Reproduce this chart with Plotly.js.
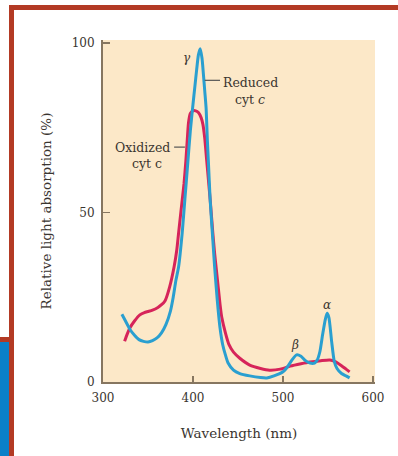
<!DOCTYPE html>
<html>
<head>
<meta charset="utf-8">
<script src="https://cdn.plot.ly/plotly-3.0.1.min.js"></script>
<style>html,body{margin:0;padding:0;background:#fff;}#chart{width:398px;height:456px;}</style>
</head>
<body>
<div id="chart"></div>
<script>
// Reduced cytochrome c (blue)
const reducedWl = [321,325,330,335,340,345,350,355,360,365,370,375,378,381,384,388,391,394,397,400,402,404,406,408,410,411.5,413,414.5,416,417,419,422,424,427,430,433,436,439,445,452,463,475,482,490,500,505,510,515,520,525,530,535,538,541,544,547,549,551,554,557,560,565,570,574];
const reducedAbs = [20,18,15.5,13.8,12.5,12,11.8,12.2,13,14.5,17,21,25,30,34,44,54,64,74,82,87,92,96.5,98.3,95.5,91,86,81,71,65.5,54,42,34,24,16,11,8,5.6,3.5,2.5,1.8,1.3,1.2,1.8,3,4.5,6.5,8,7.6,6.3,5.6,5.6,6.5,9,14,18.5,20.3,19,12,6,4,2.5,1.8,1.2];
// Oxidized cytochrome c (red)
const oxidizedWl = [324,327,330,335,341,346,350,355,361,365,369,374,379,382,384,388,390,392,394,395,397,400,403,406,409,411,413,415,417,419,422,424,426,428,430,432,436,440,445,452,463,475,485,497,508,520,530,542,552,558,565,570,574];
const oxidizedAbs = [12,14.2,16,18,19.8,20.5,20.8,21.2,22,22.8,24,28,34,39,44,53.7,58.5,65,73,76.5,79.2,80,80,79.5,78,76,72,66,60,54,44,38,33,28,23,19,14.5,11,8.8,7,5,4,3.5,3.8,4.7,5.4,5.9,6.3,6.5,6,4.8,3.8,3];

const xTicks = [300,400,500,600];
const yTicks = [0,50,100];

const serif = "DejaVu Serif, serif";
const axisCol = "#867660";
const txtCol = "#3a3530";

// frame helpers (pixel -> paper coords)
const L = 103, T = 40, W = 272, H = 342;
const px = v => (v - L) / W;
const py = v => 1 - (v - T) / H;

const traces = [
  {x: oxidizedWl, y: oxidizedAbs, mode: 'lines', name: 'Oxidized cyt c',
   line: {color: '#d6245a', width: 3, shape: 'spline', smoothing: 0.6}, hoverinfo: 'skip'},
  {x: reducedWl, y: reducedAbs, mode: 'lines', name: 'Reduced cyt c',
   line: {color: '#2a9fd0', width: 3, shape: 'spline', smoothing: 0.6}, hoverinfo: 'skip'}
];

const layout = {
  width: 398, height: 456,
  margin: {l: L, r: 398 - L - W, t: T, b: 456 - T - H, pad: 0},
  paper_bgcolor: '#ffffff',
  plot_bgcolor: '#fce8c8',
  showlegend: false,
  font: {family: serif, color: txtCol},
  xaxis: {
    range: [300, 602.2], tickvals: xTicks, ticktext: xTicks.map(String),
    showgrid: false, zeroline: false, showline: true, linecolor: axisCol, linewidth: 2,
    ticks: 'inside', ticklen: 6, tickcolor: axisCol, tickwidth: 1.5,
    ticklabelstandoff: 4,
    tickfont: {family: serif, size: 12, color: txtCol},
    title: {text: 'Wavelength (nm)', font: {family: serif, size: 13.5, color: txtCol}, standoff: 24}
  },
  yaxis: {
    range: [0, 100.9], tickvals: yTicks, ticktext: yTicks.map(String),
    showgrid: false, zeroline: false, showline: true, linecolor: axisCol, linewidth: 2,
    ticks: 'inside', ticklen: 7, tickcolor: axisCol, tickwidth: 1.5,
    ticklabelstandoff: 4,
    tickfont: {family: serif, size: 12, color: txtCol},
    title: {text: 'Relative light absorption (%)', font: {family: serif, size: 13.5, color: txtCol}, standoff: 17}
  },
  shapes: [
    // outer frame
    {type: 'rect', xref: 'paper', yref: 'paper', x0: px(10), x1: px(398), y0: py(10), y1: py(5), fillcolor: '#b33a24', line: {width: 0}},
    {type: 'rect', xref: 'paper', yref: 'paper', x0: px(9), x1: px(14), y0: py(456), y1: py(5), fillcolor: '#b33a24', line: {width: 0}},
    {type: 'rect', xref: 'paper', yref: 'paper', x0: px(0), x1: px(9), y0: py(342), y1: py(337), fillcolor: '#b33a24', line: {width: 0}},
    {type: 'rect', xref: 'paper', yref: 'paper', x0: px(0), x1: px(9), y0: py(456), y1: py(342), fillcolor: '#0a80c8', line: {width: 0}},
    // leader lines
    {type: 'line', xref: 'x', yref: 'y', x0: 413, x1: 430, y0: 89, y1: 89, line: {color: '#555', width: 1.2}},
    {type: 'line', xref: 'x', yref: 'y', x0: 379, x1: 391, y0: 69.3, y1: 69.3, line: {color: '#555', width: 1.2}}
  ],
  annotations: [
    {x: 464, y: 88.5, xref: 'x', yref: 'y', text: 'Reduced', showarrow: false, font: {family: serif, size: 12.5, color: txtCol}},
    {x: 463, y: 83.2, xref: 'x', yref: 'y', text: 'cyt <i>c</i>', showarrow: false, font: {family: serif, size: 12.5, color: txtCol}},
    {x: 344, y: 69.3, xref: 'x', yref: 'y', text: 'Oxidized', showarrow: false, font: {family: serif, size: 12.5, color: txtCol}},
    {x: 349, y: 64.6, xref: 'x', yref: 'y', text: 'cyt c', showarrow: false, font: {family: serif, size: 12.5, color: txtCol}},
    {x: 393, y: 95.6, xref: 'x', yref: 'y', text: '<i>γ</i>', showarrow: false, font: {family: serif, size: 12, color: txtCol}},
    {x: 513, y: 10.9, xref: 'x', yref: 'y', text: '<i>β</i>', showarrow: false, font: {family: serif, size: 12, color: txtCol}},
    {x: 549, y: 22.7, xref: 'x', yref: 'y', text: '<i>α</i>', showarrow: false, font: {family: serif, size: 12, color: txtCol}}
  ]
};

Plotly.newPlot('chart', traces, layout, {displayModeBar: false, staticPlot: true});
</script>
</body>
</html>
